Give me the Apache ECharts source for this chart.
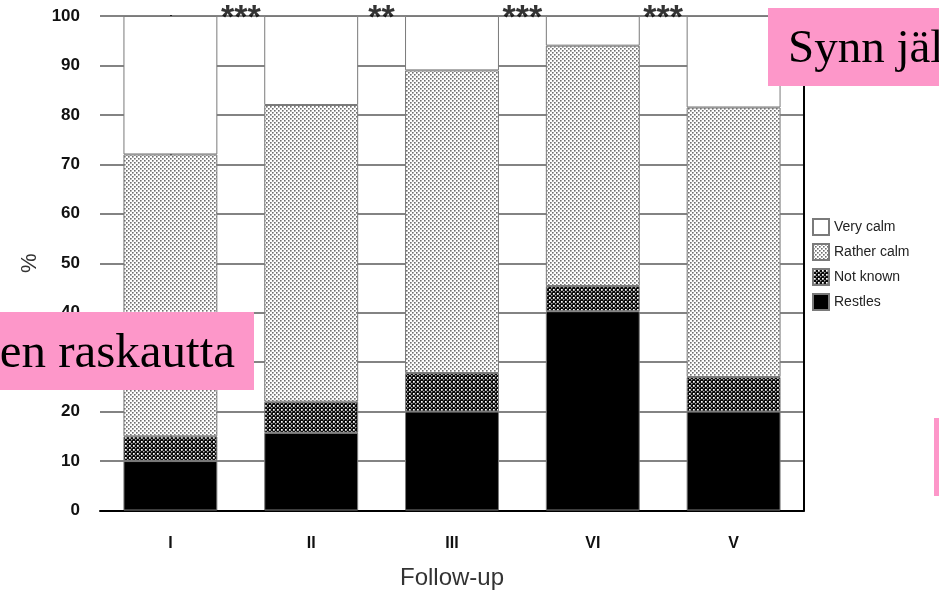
<!DOCTYPE html>
<html><head><meta charset="utf-8">
<script src="https://cdn.jsdelivr.net/npm/echarts@6/dist/echarts.min.js"></script>
<style>html,body{margin:0;padding:0;background:#fff}#c{width:939px;height:593px}</style>
</head><body><div id="c"></div>
<script>
const categories = ['I', 'II', 'III', 'VI', 'V'];
const restles    = [10, 15.7, 20, 40.3, 20];
const notKnown   = [5, 6.3, 7.8, 5.1, 7];
const ratherCalm = [57, 60, 61.2, 48.6, 54.5];
const veryCalm   = [28, 18, 11, 6, 18.5];
const yTicks = [0, 10, 20, 30, 40, 50, 60, 70, 80, 90, 100];
const sigPositions = [0.5, 1.5, 2.5, 3.5];
const sigLabels = ['***', '**', '***', '***'];
const legendOrder = ['Very calm', 'Rather calm', 'Not known', 'Restles'];

function makePattern(bg, cells) {
  const c = document.createElement('canvas');
  c.width = 4; c.height = 4;
  const ctx = c.getContext('2d');
  ctx.fillStyle = bg; ctx.fillRect(0, 0, 4, 4);
  cells.forEach(function (p) { ctx.fillStyle = p[2]; ctx.fillRect(p[0], p[1], 1, 1); });
  return { image: c, repetition: 'repeat' };
}
const lightDots = makePattern('#ffffff', [[0,0,'#6f6f6f'],[1,0,'#a5a5a5'],[0,1,'#a5a5a5'],[1,1,'#cccccc'],
                                          [2,2,'#6f6f6f'],[3,2,'#a5a5a5'],[2,3,'#a5a5a5'],[3,3,'#cccccc']]);
const darkDots = makePattern('#0a0a0a', [[1,1,'#ffffff'],[2,1,'#bbbbbb'],[1,2,'#bbbbbb'],[2,2,'#888888'],
                                         [3,3,'#aaaaaa'],[0,3,'#555555'],[3,0,'#555555']]);

const chart = echarts.init(document.getElementById('c'), null, { renderer: 'canvas' });
const border = { borderColor: '#7a7a7a', borderWidth: 1 };
function barSeries(name, data, color) {
  return {
    name: name, type: 'bar', stack: 'total', data: data, barWidth: '66.7%',
    itemStyle: Object.assign({ color: color }, border),
    emphasis: { disabled: true }
  };
}
const pinkFill = '#fd97c9';
chart.setOption({
  animation: false,
  backgroundColor: '#ffffff',
  grid: { left: 100, right: 135, top: 16, bottom: 82.5, containLabel: false, outerBoundsMode: 'none' },
  legend: {
    data: legendOrder, orient: 'vertical', left: 807, top: 213,
    itemWidth: 16, itemHeight: 16, itemGap: 7,
    textStyle: { fontFamily: 'Liberation Sans', fontSize: 14, color: '#222' },
    icon: 'rect'
  },
  xAxis: [{
    type: 'category', data: categories,
    name: 'Follow-up', nameLocation: 'middle', nameGap: 56,
    nameTextStyle: { fontFamily: 'Liberation Sans', fontSize: 24, color: '#333' },
    axisLine: { show: true, lineStyle: { color: '#000', width: 2 } },
    axisTick: { show: false },
    axisLabel: { margin: 25, fontFamily: 'Liberation Sans', fontWeight: 'bold', fontSize: 16, color: '#111' }
  }, {
    type: 'value', min: -0.5, max: 4.5, show: false
  }],
  yAxis: [{
    type: 'value', min: yTicks[0], max: yTicks[yTicks.length - 1], interval: 10,
    name: '%', nameLocation: 'middle', nameGap: 52,
    nameTextStyle: { fontFamily: 'Liberation Sans', fontSize: 22, color: '#333' },
    axisLine: { show: true, lineStyle: { color: '#000', width: 2 } },
    axisTick: { show: false },
    axisLabel: { margin: 20, fontFamily: 'Liberation Sans', fontWeight: 'bold', fontSize: 17, color: '#111' },
    splitLine: { show: true, lineStyle: { color: '#5a5a5a', width: 1.5 } }
  }, {
    type: 'value', min: 0, max: 100, interval: 10, position: 'right',
    axisLine: { show: true, lineStyle: { color: '#000', width: 2 } },
    axisTick: { show: false }, axisLabel: { show: false }, splitLine: { show: false }
  }],
  series: [
    barSeries('Restles', restles, '#000000'),
    barSeries('Not known', notKnown, darkDots),
    barSeries('Rather calm', ratherCalm, lightDots),
    barSeries('Very calm', veryCalm, '#ffffff'),
    {
      type: 'scatter', xAxisIndex: 1, yAxisIndex: 0, symbolSize: 0, silent: true,
      data: sigPositions.map(function (x, i) { return [x, 100, sigLabels[i]]; }),
      label: {
        show: true, position: [0, 0], align: 'center', verticalAlign: 'middle', offset: [0, 3],
        formatter: function (p) { return p.data[2]; },
        fontFamily: 'Liberation Sans', fontWeight: 'bold', fontSize: 34, color: '#000'
      }
    }
  ],
  graphic: [
    { type: 'rect', left: 768, top: 8, shape: { width: 175, height: 78 }, style: { fill: pinkFill }, z: 100 },
    { type: 'text', left: 788, top: 26, style: { text: 'Synn jälkeen', font: '47px "Liberation Serif"', fill: '#000' }, z: 101 },
    { type: 'rect', left: 0, top: 312, shape: { width: 254, height: 78 }, style: { fill: pinkFill }, z: 100 },
    { type: 'text', right: 939 - 235, top: 330, style: { text: 'en raskautta', font: '49px "Liberation Serif"', fill: '#000', textAlign: 'right' }, z: 101 },
    { type: 'rect', left: 934, top: 418, shape: { width: 10, height: 78 }, style: { fill: pinkFill }, z: 100 }
  ]
});
</script></body></html>
